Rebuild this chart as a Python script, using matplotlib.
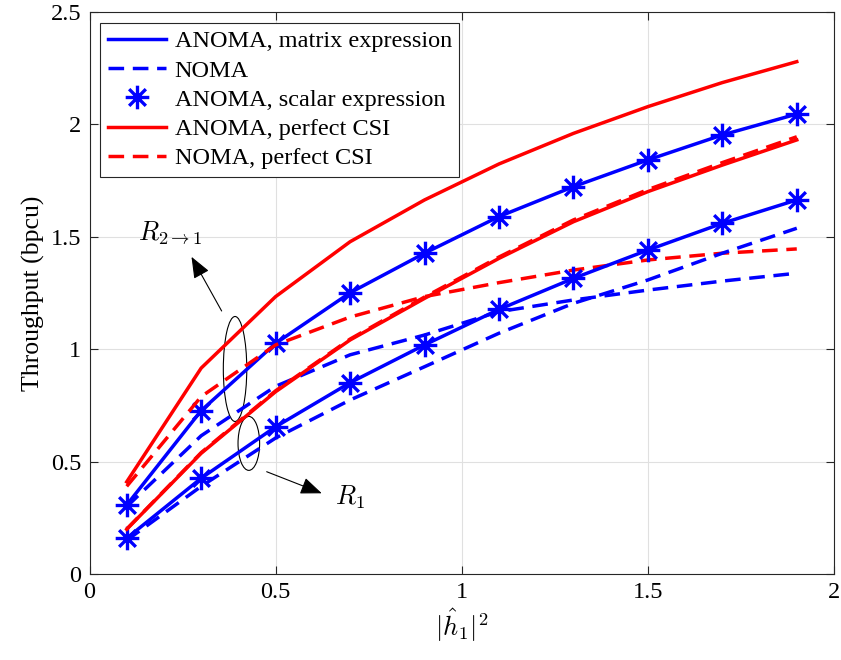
import matplotlib
matplotlib.use("Agg")
import matplotlib.pyplot as plt
import numpy as np
from matplotlib.path import Path
from matplotlib.patches import Ellipse
from matplotlib.lines import Line2D

plt.rcParams['font.family'] = ['Liberation Serif', 'DejaVu Serif']
plt.rcParams['mathtext.fontset'] = 'cm'
plt.rcParams['font.size'] = 17.5

# channel gain |h1|^2
h1 = [0.1, 0.3, 0.5, 0.7, 0.9, 1.1, 1.3, 1.5, 1.7, 1.9]

# R_{2->1}
anoma_r21 = [0.307, 0.727, 1.026, 1.251, 1.427, 1.590, 1.723, 1.842, 1.953, 2.046]
noma_r21 = [0.30, 0.615, 0.835, 0.975, 1.063, 1.167, 1.219, 1.263, 1.303, 1.338]
anoma_csi_r21 = [0.41, 0.916, 1.234, 1.478, 1.664, 1.824, 1.960, 2.079, 2.186, 2.279]
noma_csi_r21 = [0.39, 0.789, 1.019, 1.143, 1.234, 1.296, 1.352, 1.397, 1.427, 1.446]

# R_1
anoma_r1 = [0.159, 0.426, 0.655, 0.851, 1.019, 1.177, 1.315, 1.441, 1.560, 1.664]
noma_r1 = [0.15, 0.39, 0.605, 0.774, 0.922, 1.071, 1.204, 1.308, 1.427, 1.538]
anoma_csi_r1 = [0.199, 0.537, 0.811, 1.041, 1.226, 1.404, 1.567, 1.701, 1.819, 1.931]
noma_csi_r1 = [0.20, 0.540, 0.815, 1.045, 1.232, 1.410, 1.575, 1.710, 1.830, 1.945]

# matlab style asterisk marker (+ and x together)
d = np.sqrt(0.5)
verts = [(-1, 0), (1, 0), (0, -1), (0, 1), (-d, -d), (d, d), (-d, d), (d, -d)]
codes = [Path.MOVETO, Path.LINETO] * 4
asterisk = Path(verts, codes)

blue = (0, 0, 1)
red = (1, 0, 0)
lw = 2.5
dash = (0, (4.5, 2.5))
ms = 17
mew = 2.4

fig = plt.figure(figsize=(8.41, 6.60), dpi=100)
ax = fig.add_axes([89.5 / 841, 86 / 660, 744.5 / 841, 562 / 660])

for a, n, ac, nc in [(anoma_r21, noma_r21, anoma_csi_r21, noma_csi_r21),
                     (anoma_r1, noma_r1, anoma_csi_r1, noma_csi_r1)]:
    ax.plot(h1, a, color=blue, lw=lw)
    ax.plot(h1, n, color=blue, lw=lw, linestyle=dash)
    ax.plot(h1, a, color=blue, lw=0, marker=asterisk, ms=ms, mew=mew, mec=blue)
    ax.plot(h1, ac, color=red, lw=lw)
    ax.plot(h1, nc, color=red, lw=lw, linestyle=dash)

# legend proxies
handles = [
    Line2D([], [], color=blue, lw=lw),
    Line2D([], [], color=blue, lw=lw, linestyle=dash),
    Line2D([], [], color=blue, lw=0, marker=asterisk, ms=ms, mew=mew, mec=blue),
    Line2D([], [], color=red, lw=lw),
    Line2D([], [], color=red, lw=lw, linestyle=dash),
]
labels = ['ANOMA, matrix expression', 'NOMA', 'ANOMA, scalar expression',
          'ANOMA, perfect CSI', 'NOMA, perfect CSI']
leg = ax.legend(handles, labels, loc='upper left', fancybox=False, framealpha=1,
                edgecolor='0.15', handlelength=2.4, handletextpad=0.35,
                labelspacing=0.3, borderaxespad=0.45, borderpad=0.3)
leg.get_frame().set_linewidth(0.8)

# ellipses and arrows
ax.add_patch(Ellipse((0.391, 0.912), 0.063, 0.467, fill=False, ec='k', lw=0.8))
ax.add_patch(Ellipse((0.428, 0.581), 0.058, 0.24, fill=False, ec='k', lw=0.8))
arrow = dict(arrowstyle='-|>,head_length=0.75,head_width=0.3', color='k', lw=0.8,
             shrinkA=0, shrinkB=0)
ax.annotate('', xy=(0.274, 1.411), xytext=(0.355, 1.170), arrowprops=arrow)
ax.annotate('', xy=(0.624, 0.359), xytext=(0.476, 0.455), arrowprops=arrow)
ax.text(0.216, 1.517, r'$R_{2\rightarrow1}$', ha='center', va='center', fontsize=19)
ax.text(0.70, 0.342, r'$R_1$', ha='center', va='center', fontsize=19)

ax.set_xlim(0, 2)
ax.set_ylim(0, 2.5)
ax.set_xticks([0, 0.5, 1, 1.5, 2])
ax.set_xticklabels(['0', '0.5', '1', '1.5', '2'])
ax.set_yticks([0, 0.5, 1, 1.5, 2, 2.5])
ax.set_yticklabels(['0', '0.5', '1', '1.5', '2', '2.5'])
ax.grid(True, color='0.88', lw=0.8)
ax.set_axisbelow(True)
ax.tick_params(direction='in', top=True, right=True, length=6, width=0.8, colors='0.15',
               labelcolor='k', pad=6)
for s in ax.spines.values():
    s.set_linewidth(0.8)
    s.set_color('0.15')
ax.set_xlabel(r'$|\hat{h}_1|^2$', fontsize=19, labelpad=2)
ax.set_ylabel('Throughput (bpcu)', fontsize=18.5, labelpad=4)

fig.savefig('out.png', dpi=100)
